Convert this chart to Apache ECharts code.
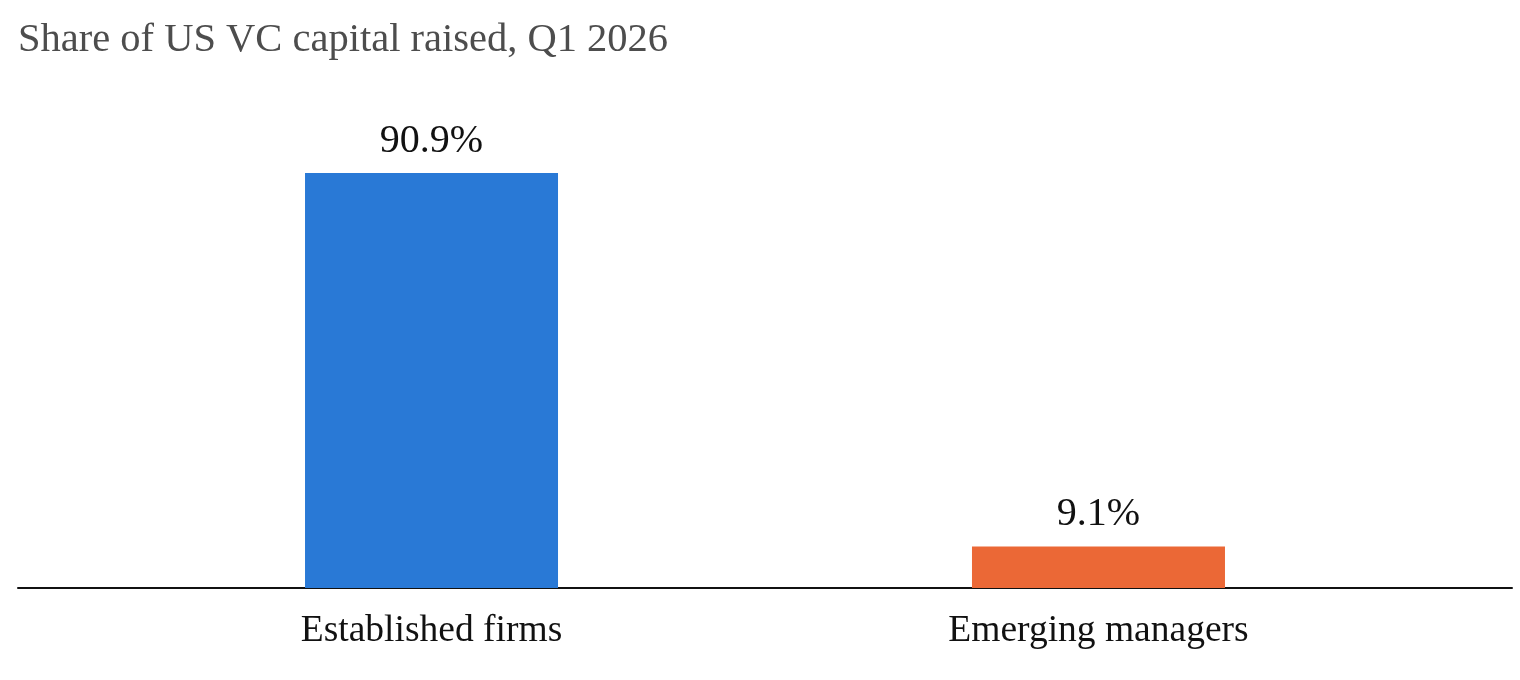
<!DOCTYPE html>
<html><head><meta charset="utf-8">
<script src="https://cdn.jsdelivr.net/npm/echarts@6/dist/echarts.min.js"></script>
<style>html,body{margin:0;padding:0;background:#fff}#c{width:1520px;height:680px}</style>
</head><body><div id="c"></div>
<script>
const title = "Share of US VC capital raised, Q1 2026";
const categories = ["Established firms", "Emerging managers"];
const values = [90.9, 9.1];
const colors = ["#2979D6", "#EB6836"];

const FONT = "'Liberation Serif', 'DejaVu Serif', serif";
const chart = echarts.init(document.getElementById('c'), null, {renderer: 'canvas'});
chart.setOption({
  animation: false,
  title: {
    text: title, left: 13, top: 15,
    textStyle: {fontFamily: FONT, fontWeight: 'normal', fontSize: 40.5, color: '#4d4d4d'}
  },
  grid: {left: 18, right: 8, top: 131.5, bottom: 92, containLabel: false},
  xAxis: {
    type: 'value', min: -0.62, max: 1.62,
    axisLine: {show: true, onZero: false, lineStyle: {color: '#111', width: 2}},
    axisTick: {show: false},
    splitLine: {show: false},
    axisLabel: {
      customValues: [0, 1],
      formatter: v => categories[Math.round(v)] || '',
      fontFamily: FONT, fontSize: 37.5, color: '#111', margin: 24
    }
  },
  yAxis: {
    type: 'value', min: 0, max: 100,
    show: false, splitLine: {show: false}
  },
  series: [{
    type: 'bar',
    barWidth: 253,
    data: values.map((v, i) => ({value: [i, v], itemStyle: {color: colors[i]}})),
    label: {
      show: true, position: 'top', distance: 12,
      formatter: p => p.value[1].toFixed(1) + '%',
      fontFamily: FONT, fontSize: 40, color: '#111'
    }
  }]
});
</script></body></html>
